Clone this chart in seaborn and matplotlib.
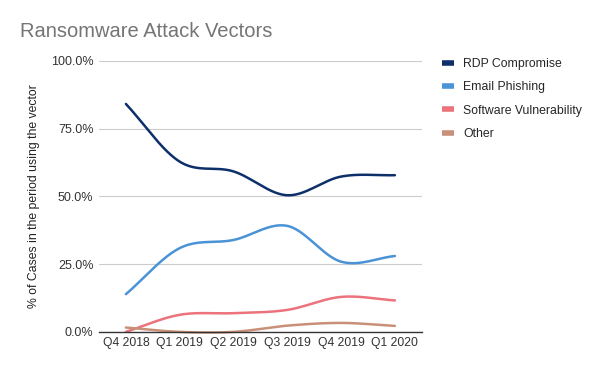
import numpy as np
import pandas as pd
import seaborn as sns
import matplotlib.pyplot as plt
from matplotlib.lines import Line2D
from matplotlib.ticker import FuncFormatter

# values (% of cases)
quarters = ['Q4 2018', 'Q1 2019', 'Q2 2019', 'Q3 2019', 'Q4 2019', 'Q1 2020']
rdp = [84.1, 62.8, 59.2, 50.4, 57.3, 57.8]
email = [13.9, 30.9, 33.9, 39.1, 25.9, 28.0]
software = [0.0, 6.3, 6.9, 8.1, 12.9, 11.6]
other = [1.6, 0.0, 0.0, 2.3, 3.3, 2.2]

series = ['RDP Compromise', 'Email Phishing', 'Software Vulnerability', 'Other']
colors = ['#0d306b', '#4a93d6', '#ec727b', '#c99079']


def smooth(y, n=30):
    # Catmull-Rom style curve through the points (like the sheet's smoothed lines)
    y = np.asarray(y, float)
    m = np.gradient(y)
    xs, ys = [], []
    for i in range(len(y) - 1):
        t = np.linspace(0, 1, n, endpoint=(i == len(y) - 2))
        h00 = 2 * t**3 - 3 * t**2 + 1
        h10 = t**3 - 2 * t**2 + t
        h01 = -2 * t**3 + 3 * t**2
        h11 = t**3 - t**2
        xs.append(i + t)
        ys.append(h00 * y[i] + h10 * m[i] + h01 * y[i + 1] + h11 * m[i + 1])
    return np.concatenate(xs), np.concatenate(ys)


frames = []
for name, vals in zip(series, [rdp, email, software, other]):
    x, y = smooth(vals)
    frames.append(pd.DataFrame({'x': x, 'pct': y, 'vector': name}))
df = pd.concat(frames)

sns.set_style('white')
plt.rcParams['font.family'] = ['Liberation Sans', 'DejaVu Sans']

fig = plt.figure(figsize=(6, 3.85), dpi=100)
ax = fig.add_axes([0.165, 0.138, 0.538, 0.704])

sns.lineplot(data=df, x='x', y='pct', hue='vector', palette=colors,
             hue_order=series, linewidth=1.8, legend=False, ax=ax, sort=False)
for ln in ax.lines:
    ln.set_clip_on(False)

ax.set_xlim(-0.5, 5.5)
ax.set_ylim(0, 100)
ax.set_xticks(range(len(quarters)))
ax.set_xticklabels(quarters)
ax.set_yticks([0, 25, 50, 75, 100])
ax.yaxis.set_major_formatter(FuncFormatter(lambda v, p: f'{v:.1f}%'))
ax.tick_params(axis='y', length=0, labelsize=9, colors='#333333', pad=4)
ax.tick_params(axis='x', length=0, labelsize=8.7, colors='#333333', pad=4)
ax.grid(axis='y', color='#cccccc', linewidth=0.8)
ax.set_axisbelow(True)
for s in ['top', 'right', 'left']:
    ax.spines[s].set_visible(False)
ax.spines['bottom'].set_color('#333333')
ax.spines['bottom'].set_linewidth(1)
ax.set_xlabel('')
ax.set_ylabel('% of Cases in the period using the vector', fontsize=8.8,
              color='#222222', labelpad=8)

fig.text(0.033, 0.917, 'Ransomware Attack Vectors', fontsize=14.5,
         color='#757575', va='center', ha='left')

handles = [Line2D([], [], color=c, linewidth=4, solid_capstyle='butt')
           for c in colors]
fig.legend(handles, series, loc='upper left', bbox_to_anchor=(0.718, 0.878),
           frameon=False, fontsize=8.8, handlelength=1.0, handletextpad=0.75,
           labelspacing=0.93)

fig.savefig('out.png', dpi=100)
